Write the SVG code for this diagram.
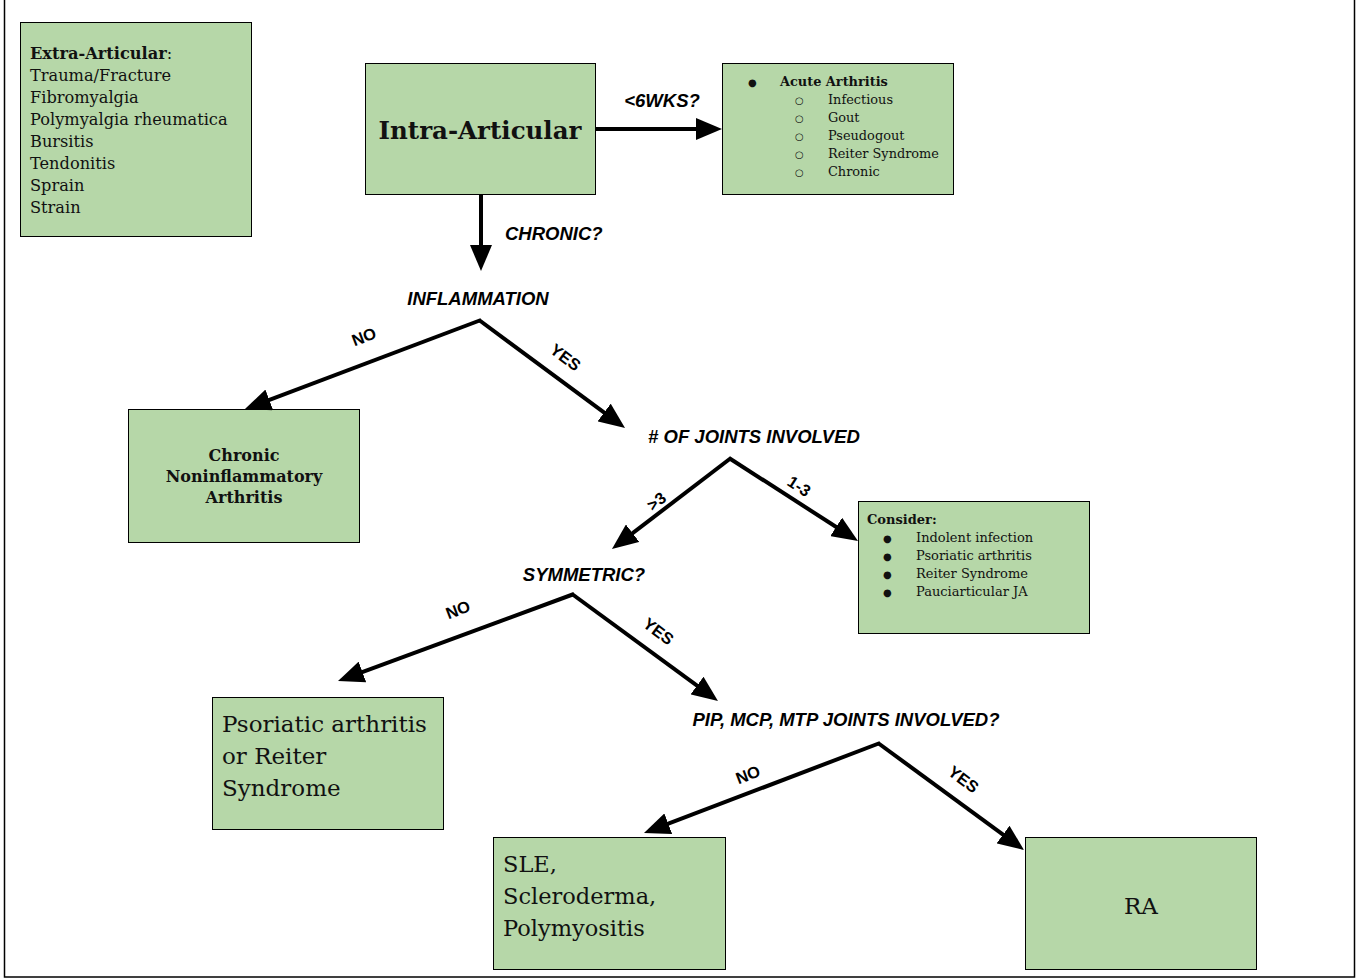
<svg xmlns="http://www.w3.org/2000/svg" width="1364" height="980" viewBox="0 0 1364 980">
<style>
.box{fill:#b6d7a8;stroke:#000;stroke-width:1}
.s{font-family:"DejaVu Serif","Liberation Serif",serif;fill:#111}
.lbl{font-family:"Liberation Sans",Arial,sans-serif;font-weight:bold;font-style:italic;font-size:18.5px;fill:#000}
.edge{font-family:"Liberation Sans",Arial,sans-serif;font-weight:bold;font-size:16.5px;fill:#000}
.ln{fill:none;stroke:#000;stroke-width:4}
</style>
<defs>
<marker id="ah" markerUnits="userSpaceOnUse" markerWidth="26" markerHeight="22" viewBox="0 0 26 22" refX="14" refY="11" orient="auto">
<path d="M0,0 L26,11 L0,22 z" fill="#000"/>
</marker>
</defs>
<rect x="4.5" y="-2" width="1350" height="979" fill="#fff" stroke="#000" stroke-width="1.5"/>

<g id="extra">
<rect class="box" x="20.5" y="22.5" width="231" height="214"/>
<text class="s" font-size="16.2" x="30"><tspan y="59" font-weight="bold">Extra-Articular</tspan><tspan>:</tspan><tspan x="30" y="81">Trauma/Fracture</tspan><tspan x="30" y="103">Fibromyalgia</tspan><tspan x="30" y="125">Polymyalgia rheumatica</tspan><tspan x="30" y="147">Bursitis</tspan><tspan x="30" y="169">Tendonitis</tspan><tspan x="30" y="191">Sprain</tspan><tspan x="30" y="213">Strain</tspan></text>
</g>

<g id="intra">
<rect class="box" x="365.5" y="63.5" width="230" height="131"/>
<text class="s" font-size="24.5" font-weight="bold" x="480" y="139" text-anchor="middle">Intra-Articular</text>
</g>

<g id="acute">
<rect class="box" x="722.5" y="63.5" width="231" height="131"/>
<g class="s" font-size="12.9">
<text x="748" y="86" font-size="10">●</text>
<text x="780" y="86" font-weight="bold">Acute Arthritis</text>
<text x="795" y="104" font-size="10">○</text><text x="828" y="104">Infectious</text>
<text x="795" y="122" font-size="10">○</text><text x="828" y="122">Gout</text>
<text x="795" y="140" font-size="10">○</text><text x="828" y="140">Pseudogout</text>
<text x="795" y="158" font-size="10">○</text><text x="828" y="158">Reiter Syndrome</text>
<text x="795" y="176" font-size="10">○</text><text x="828" y="176">Chronic</text>
</g>
</g>

<g id="inflammation">
<text class="lbl" x="478" y="305" text-anchor="middle">INFLAMMATION</text>
</g>

<g id="chronic-noninfl">
<rect class="box" x="128.5" y="409.5" width="231" height="133"/>
<text class="s" font-size="16" font-weight="bold" text-anchor="middle"><tspan x="244" y="461">Chronic</tspan><tspan x="244" y="482">Noninflammatory</tspan><tspan x="244" y="503">Arthritis</tspan></text>
</g>

<g id="joints">
<text class="lbl" x="754" y="443" text-anchor="middle"># OF JOINTS INVOLVED</text>
</g>

<g id="consider">
<rect class="box" x="858.5" y="501.5" width="231" height="132"/>
<g class="s" font-size="13">
<text x="867" y="524" font-weight="bold">Consider:</text>
<text x="883" y="542" font-size="10">●</text><text x="916" y="542">Indolent infection</text>
<text x="883" y="560" font-size="10">●</text><text x="916" y="560">Psoriatic arthritis</text>
<text x="883" y="578" font-size="10">●</text><text x="916" y="578">Reiter Syndrome</text>
<text x="883" y="596" font-size="10">●</text><text x="916" y="596">Pauciarticular JA</text>
</g>
</g>

<g id="symmetric">
<text class="lbl" x="584" y="581" text-anchor="middle">SYMMETRIC?</text>
</g>

<g id="psoriatic">
<rect class="box" x="212.5" y="697.5" width="231" height="132"/>
<text class="s" font-size="23" x="222"><tspan y="732">Psoriatic arthritis</tspan><tspan x="222" y="764">or Reiter</tspan><tspan x="222" y="796">Syndrome</tspan></text>
</g>

<g id="pip">
<text class="lbl" x="846" y="726" text-anchor="middle">PIP, MCP, MTP JOINTS INVOLVED?</text>
</g>

<g id="sle">
<rect class="box" x="493.5" y="837.5" width="232" height="132"/>
<text class="s" font-size="22.5" x="503"><tspan y="872">SLE,</tspan><tspan x="503" y="904">Scleroderma,</tspan><tspan x="503" y="936">Polymyositis</tspan></text>
</g>

<g id="ra">
<rect class="box" x="1025.5" y="837.5" width="231" height="132"/>
<text class="s" font-size="23" x="1141" y="914" text-anchor="middle">RA</text>
</g>

<g id="connectors">
<path class="ln" d="M596,129 L710,129" marker-end="url(#ah)"/>
<path class="ln" d="M481,195 L481,259" marker-end="url(#ah)"/>
<path class="ln" d="M481,320 L256.2,404.8" marker-end="url(#ah)"/>
<path class="ln" d="M479,320 L615.4,420.8" marker-end="url(#ah)"/>
<path class="ln" d="M731,458 L621.5,541.7" marker-end="url(#ah)"/>
<path class="ln" d="M729,458 L847.9,534.5" marker-end="url(#ah)"/>
<path class="ln" d="M574,594 L349.3,676.8" marker-end="url(#ah)"/>
<path class="ln" d="M572,594 L708.3,693.9" marker-end="url(#ah)"/>
<path class="ln" d="M880,743 L655.2,828.7" marker-end="url(#ah)"/>
<path class="ln" d="M878,743 L1014.3,842.9" marker-end="url(#ah)"/>
<text class="lbl" x="662" y="107" text-anchor="middle" font-size="13.5">&lt;6WKS?</text>
<text class="lbl" x="505" y="240">CHRONIC?</text>
<text class="edge" transform="translate(366,342) rotate(-21)" text-anchor="middle">NO</text>
<text class="edge" transform="translate(562,362) rotate(37)" text-anchor="middle">YES</text>
<text class="edge" transform="translate(660,506) rotate(-38)" text-anchor="middle">&gt;3</text>
<text class="edge" transform="translate(796,491) rotate(33)" text-anchor="middle">1-3</text>
<text class="edge" transform="translate(460,615) rotate(-21)" text-anchor="middle">NO</text>
<text class="edge" transform="translate(655,636) rotate(37)" text-anchor="middle">YES</text>
<text class="edge" transform="translate(750,780) rotate(-21)" text-anchor="middle">NO</text>
<text class="edge" transform="translate(960,784) rotate(37)" text-anchor="middle">YES</text>
</g>
</svg>
